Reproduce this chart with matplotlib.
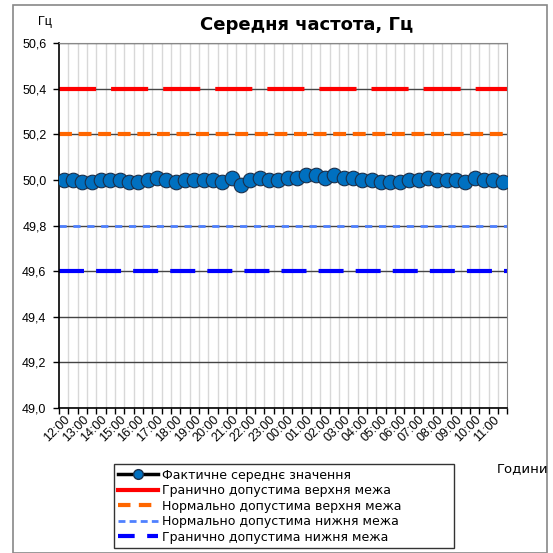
import matplotlib
matplotlib.use('Agg')
import matplotlib.pyplot as plt
from matplotlib.lines import Line2D
from matplotlib.patches import Rectangle
import numpy as np

# Години (кожні 30 хв, підписи через одну)
hours = ['12:00', '13:00', '14:00', '15:00', '16:00', '17:00', '18:00', '19:00',
         '20:00', '21:00', '22:00', '23:00', '00:00', '01:00', '02:00', '03:00',
         '04:00', '05:00', '06:00', '07:00', '08:00', '09:00', '10:00', '11:00']

# Фактичне середнє значення частоти
freq = [50.00, 50.00, 49.99, 49.99, 50.00, 50.00, 50.00, 49.99,
        49.99, 50.00, 50.01, 50.00, 49.99, 50.00, 50.00, 50.00,
        50.00, 49.99, 50.01, 49.98, 50.00, 50.01, 50.00, 50.00,
        50.01, 50.01, 50.02, 50.02, 50.01, 50.02, 50.01, 50.01,
        50.00, 50.00, 49.99, 49.99, 49.99, 50.00, 50.00, 50.01,
        50.00, 50.00, 50.00, 49.99, 50.01, 50.00, 50.00, 49.99]

upper_limit = 50.4
upper_normal = 50.2
lower_normal = 49.8
lower_limit = 49.6

labels = ['Фактичне середнє значення',
          'Гранично допустима верхня межа',
          'Нормально допустима верхня межа',
          'Нормально допустима нижня межа',
          'Гранично допустима нижня межа']

plt.rcParams['font.family'] = ['Liberation Sans', 'DejaVu Sans']

fig = plt.figure(figsize=(5.53, 5.53), dpi=100)
ax = fig.add_axes([0.1067, 0.262, 0.8105, 0.66])

n = len(freq)
x = np.arange(n)

# горизонтальні лінії сітки
for v in np.arange(49.0, 50.61, 0.2):
    ax.axhline(v, color='#444444', lw=1.0, zorder=1)
# вертикальні лінії сітки
for b in np.arange(0.5, n - 0.5, 1):
    ax.axvline(b, color='#d8d8d8', lw=1.0, zorder=0)

ax.plot([-0.5, n - 0.5], [upper_limit] * 2, color='#ff0000', lw=3,
        dashes=(8.9, 3.6), zorder=2)
ax.plot([-0.5, n - 0.5], [upper_normal] * 2, color='#ff6600', lw=3,
        dashes=(3.1, 1.6), zorder=2)
ax.plot([-0.5, n - 0.5], [lower_normal] * 2, color='#4f81ff', lw=2,
        dashes=(2.6, 2.4), zorder=2)
ax.plot([-0.5, n - 0.5], [lower_limit] * 2, color='#0000ff', lw=3,
        dashes=(6, 2.9), zorder=2)

ax.plot(x, freq, color='black', lw=2, marker='o', markersize=10.5,
        markerfacecolor='#0070c0', markeredgecolor='#1a2f4a',
        markeredgewidth=0.8, zorder=3)

ax.set_xlim(-0.5, n - 0.5)
ax.set_ylim(49.0, 50.6)
ax.set_yticks(np.arange(49.0, 50.61, 0.2))
ax.set_yticklabels([f'{v:.1f}'.replace('.', ',') for v in np.arange(49.0, 50.61, 0.2)],
                   fontsize=9)
ax.set_xticks(np.arange(-0.5, n, 1), minor=True)
ax.set_xticks(np.arange(0, n, 2))
ax.set_xticklabels(hours, rotation=45, ha='right', rotation_mode='anchor', fontsize=9)
ax.tick_params(axis='x', which='major', length=0, pad=4)
ax.tick_params(axis='x', which='minor', length=4, width=1, color='black')
ax.tick_params(axis='y', length=4, width=1, pad=5)

for s in ['top', 'right']:
    ax.spines[s].set_color('#888888')
for s in ['left', 'bottom']:
    ax.spines[s].set_color('black')
    ax.spines[s].set_linewidth(1.2)

fig.text(0.555, 0.955, 'Середня частота, Гц', ha='center', va='center',
         fontsize=13, fontweight='bold', family=['DejaVu Sans'])
fig.text(0.081, 0.96, 'Гц', ha='center', va='center', fontsize=9)
fig.text(0.945, 0.152, 'Години', ha='center', va='center', fontsize=9.5,
         family=['DejaVu Sans'])

handles = [
    Line2D([], [], color='black', lw=2.5, marker='o', markersize=7,
           markerfacecolor='#0070c0', markeredgecolor='#1a2f4a'),
    Line2D([], [], color='#ff0000', lw=3),
    Line2D([], [], color='#ff6600', lw=3, dashes=(3, 2)),
    Line2D([], [], color='#4f81ff', lw=2, dashes=(2.5, 1.5)),
    Line2D([], [], color='#0000ff', lw=3, dashes=(4, 3)),
]
leg = fig.legend(handles, labels, loc='upper left',
                 bbox_to_anchor=(0.195, 0.009, 0.637, 0.163), mode='expand',
                 frameon=True, fancybox=False, handlelength=3.2,
                 handletextpad=0.3, labelspacing=0.2, borderpad=0.35,
                 prop={'family': ['DejaVu Sans'], 'size': 9})
leg.get_frame().set_edgecolor('black')
leg.get_frame().set_linewidth(1.0)

fig.patches.append(Rectangle((13 / 553, 0.0), (547 - 13) / 553, 1 - 5 / 553,
                             transform=fig.transFigure, fill=False,
                             edgecolor='#888888', lw=1.2))

fig.savefig('out.png', dpi=100)
